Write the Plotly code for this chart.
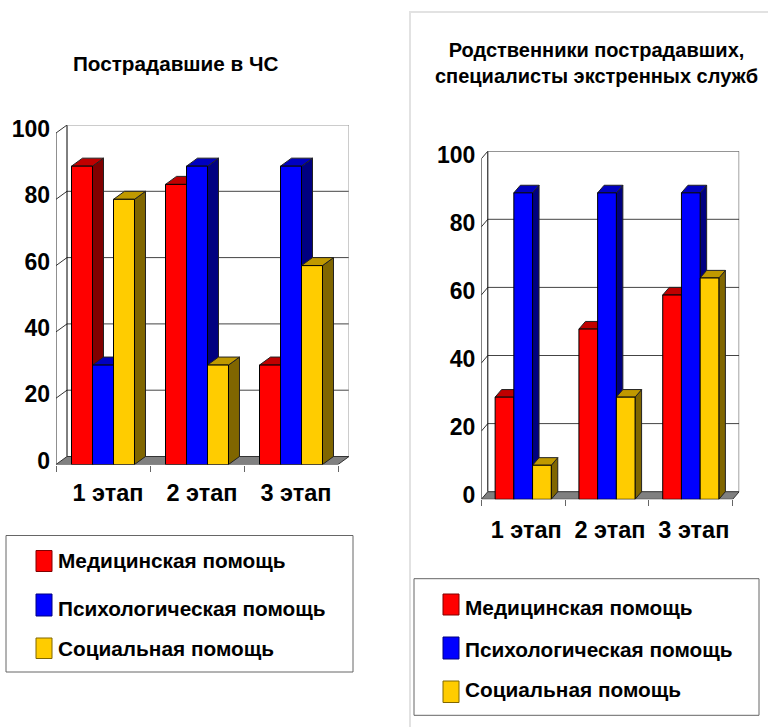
import plotly.graph_objects as go

categories = ["1 этап", "2 этап", "3 этап"]
series_names = ["Медицинская помощь", "Психологическая помощь", "Социальная помощь"]
left_med = [90, 84.5, 30]
left_psy = [30, 90, 90]
left_soc = [80, 30, 60]
right_med = [30, 50, 60]
right_psy = [90, 90, 90]
right_soc = [10, 30, 65]
y_ticks = [0, 20, 40, 60, 80, 100]
title_left = "Пострадавшие в ЧС"
title_right = "Родственники пострадавших,<br>специалисты экстренных служб"

W, H = 768, 727
FONT = "Liberation Sans, Arial, sans-serif"
FRONT = ["#ff0000", "#0000ff", "#ffcc00"]
TOP = ["#c00000", "#0000c0", "#c09900"]
SIDE = ["#800000", "#000080", "#806600"]
GAP = 0.33


def px(v):
    return v / W


def py(v):
    return 1 - v / H


fig = go.Figure()
shapes, annotations = [], []


def panel(n, series, x0, x1, y0, y100, dxp, dyp, wall, xshift, xstandoff):
    xn, yn = ("x", "y") if n == 1 else (f"x{n}", f"y{n}")
    catw = (x1 - x0) / 3
    unit = (y0 - y100) / 100
    ddx, ddy = dxp / catw, dyp / unit
    xl, xr = -0.5, 2.5
    axis_common = dict(showgrid=False, zeroline=False, showline=False)
    fig.update_layout({
        f"xaxis{'' if n == 1 else n}": dict(
            domain=[px(x0), px(x1 + dxp)], range=[xl, xr + ddx], type="category",
            categoryorder="array", categoryarray=categories, anchor=yn,
            tickmode="array", tickvals=categories, ticktext=[f"<b>{c}</b>" for c in categories],
            ticks="outside", ticklen=6, tickcolor="#666666", tickwidth=1, tickson="boundaries",
            tickfont=dict(family=FONT, size=23.5, color="#000000"),
            ticklabelstandoff=xstandoff, ticklabelshift=xshift,
            **axis_common),
        f"yaxis{'' if n == 1 else n}": dict(
            domain=[py(y0), py(y100 - dyp)], range=[0, 100 + ddy], anchor=xn,
            tickmode="array", tickvals=y_ticks, ticktext=[f"<b>{t}</b>" for t in y_ticks],
            ticks="", ticklabelshift=-4, ticklabelstandoff=5,
            tickfont=dict(family=FONT, size=23, color="#000000"),
            **axis_common),
    })

    def poly(points, fill, line="#000000", width=1):
        path = "M " + " L ".join(f"{a:.4f},{b:.4f}" for a, b in points) + " Z"
        shapes.append(dict(type="path", path=path, xref=xn, yref=yn, layer="below",
                           fillcolor=fill, line=dict(color=line, width=width)))

    def seg(a, b, c, d, color, width=1):
        shapes.append(dict(type="line", x0=a, y0=b, x1=c, y1=d, xref=xn, yref=yn, layer="below",
                           line=dict(color=color, width=width)))

    # gridlines across left wall and back wall
    for t in y_ticks[1:-1]:
        seg(xl, t, xl + ddx, t + ddy, "#333333")
        seg(xl + ddx, t + ddy, xr + ddx, t + ddy, "#444444")
    # walls
    seg(xl, 0, xl, 100, "#222222")
    seg(xl + ddx, 0 + ddy, xl + ddx, 100 + ddy, "#000000")
    seg(xl, 100, xl + ddx, 100 + ddy, "#333333")
    seg(xl + ddx, 100 + ddy, xr + ddx, 100 + ddy, wall)
    seg(xr + ddx, ddy, xr + ddx, 100 + ddy, wall)
    # floor
    poly([(xl, 0), (xl + ddx, ddy), (xr + ddx, ddy), (xr, 0)], "#808080", "#333333")

    # depth faces from the data
    barw = (1 - GAP) / 3
    for k, vals in enumerate(series):
        for i, v in enumerate(vals):
            a = i - (1 - GAP) / 2 + k * barw
            b = a + barw
            poly([(b, 0), (b + ddx, ddy), (b + ddx, v + ddy), (b, v)], SIDE[k], "#222222")
            poly([(a, v), (a + ddx, v + ddy), (b + ddx, v + ddy), (b, v)], TOP[k], "#222222")

    # front faces
    for k, vals in enumerate(series):
        fig.add_trace(go.Bar(x=categories, y=vals, name=series_names[k], showlegend=False,
                             xaxis=xn, yaxis=yn, offsetgroup=str(k),
                             marker=dict(color=FRONT[k], line=dict(color="#000000", width=1))))


def legend(box, swatches, labels_y, sx0, sx1, tx):
    shapes.append(dict(type="rect", xref="paper", yref="paper",
                       x0=px(box[0]), x1=px(box[1]), y0=py(box[2]), y1=py(box[3]),
                       line=dict(color="#666666", width=1), fillcolor="#ffffff", layer="below"))
    for k, name in enumerate(series_names):
        shapes.append(dict(type="rect", xref="paper", yref="paper",
                           x0=px(sx0), x1=px(sx1), y0=py(swatches[k][0]), y1=py(swatches[k][1]),
                           fillcolor=FRONT[k], line=dict(color=SIDE[k], width=1)))
        annotations.append(dict(text=f"<b>{name}</b>", xref="paper", yref="paper",
                                x=px(tx), y=py(labels_y[k]), xanchor="left", yanchor="middle",
                                showarrow=False, font=dict(family=FONT, size=20.8, color="#000000")))


panel(1, [left_med, left_psy, left_soc], 56, 338, 464.5, 133, 11, 8, "#999999", 5, 12)
panel(2, [right_med, right_psy, right_soc], 481.3, 732.7, 499.3, 158.8, 6.5, 7.6, "#333333", 3, 14)

legend((6, 353, 535.5, 672), [(550.5, 571.5), (594, 616), (638, 658.5)], (560, 608, 648), 36, 52, 56)
legend((414, 759, 578.7, 715.3), [(594, 615), (637, 659), (681, 702.5)], (607, 649, 689), 443, 459, 463)

# panel frame of the right-hand chart
shapes.append(dict(type="line", xref="paper", yref="paper", x0=px(410), x1=px(410), y0=py(11), y1=0,
                   line=dict(color="#e2e2e2", width=2), layer="below"))
shapes.append(dict(type="line", xref="paper", yref="paper", x0=px(410), x1=1, y0=py(12), y1=py(12),
                   line=dict(color="#e2e2e2", width=2), layer="below"))

annotations.append(dict(text=f"<b>{title_left}</b>", xref="paper", yref="paper", x=px(176), y=py(63),
                        xanchor="center", yanchor="middle", showarrow=False,
                        font=dict(family=FONT, size=20.7, color="#000000")))
annotations.append(dict(text=f"<b>{title_right}</b>", xref="paper", yref="paper", x=px(596.5), y=py(63),
                        xanchor="center", yanchor="middle", align="center", showarrow=False,
                        font=dict(family=FONT, size=20, color="#000000")))

fig.update_layout(width=W, height=H, margin=dict(l=0, r=0, t=0, b=0, autoexpand=False), autosize=False,
                  paper_bgcolor="#ffffff", plot_bgcolor="rgba(0,0,0,0)",
                  barmode="group", bargap=GAP, bargroupgap=0, showlegend=False,
                  shapes=shapes, annotations=annotations)

fig.write_html("out.html", config=dict(displayModeBar=False), default_width="768px", default_height="727px",
               post_script="document.body.style.margin='0';document.body.style.overflow='hidden';")
